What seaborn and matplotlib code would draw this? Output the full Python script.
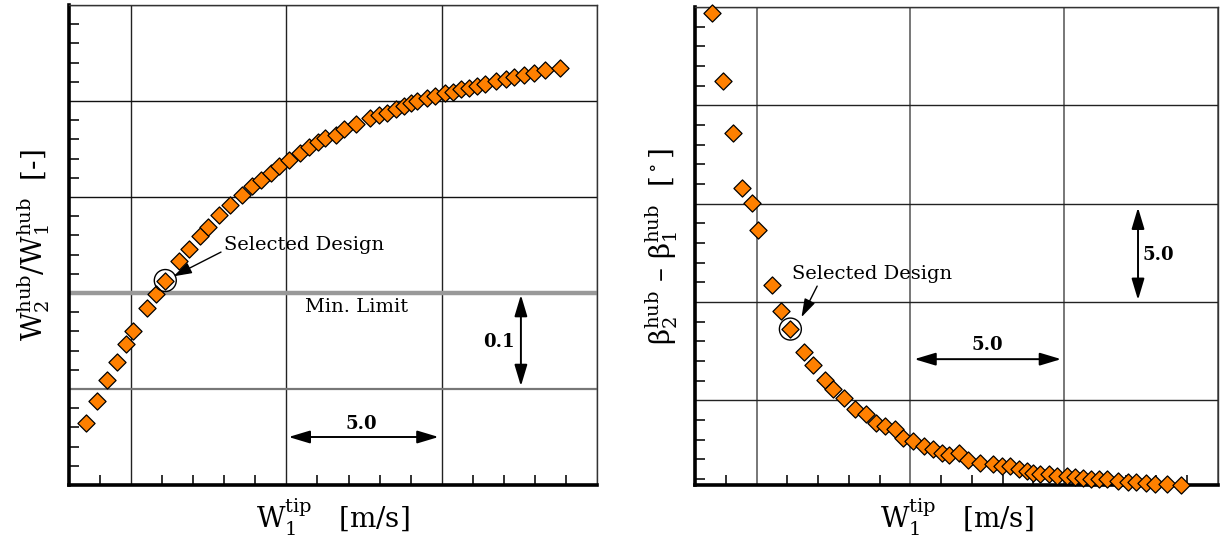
import numpy as np
import pandas as pd
import matplotlib
matplotlib.use("Agg")
import matplotlib.pyplot as plt
import seaborn as sns
from matplotlib.ticker import MultipleLocator, NullFormatter

# ---------------- data ----------------
w1_tip = [8.56, 8.91, 9.23, 9.53, 9.85, 10.06, 10.50, 10.81, 11.10, 11.55,
          11.85, 12.23, 12.47, 12.84, 13.19, 13.56, 13.89, 14.17, 14.51, 14.75,
          15.07, 15.43, 15.73, 16.02, 16.25, 16.59, 16.86, 17.25, 17.69, 17.97,
          18.25, 18.54, 18.79, 19.00, 19.21, 19.52, 19.78, 20.09, 20.36, 20.61,
          20.88, 21.13, 21.38, 21.76, 22.06, 22.33, 22.66, 22.96, 23.34, 23.80]

w_ratio = [0.565, 0.588, 0.609, 0.628, 0.647, 0.660, 0.684, 0.699, 0.713, 0.733,
           0.746, 0.759, 0.769, 0.781, 0.792, 0.802, 0.811, 0.818, 0.825, 0.832,
           0.839, 0.846, 0.852, 0.857, 0.861, 0.865, 0.871, 0.876, 0.882, 0.885,
           0.888, 0.892, 0.895, 0.898, 0.900, 0.903, 0.905, 0.908, 0.909, 0.912,
           0.914, 0.916, 0.918, 0.921, 0.923, 0.925, 0.927, 0.929, 0.932, 0.934]

beta_diff = [24.70, 21.26, 18.60, 15.80, 15.05, 13.64, 10.88, 9.54, 8.62, 7.43,
             6.77, 6.03, 5.57, 5.09, 4.57, 4.29, 3.82, 3.68, 3.56, 3.09,
             2.95, 2.67, 2.51, 2.32, 2.22, 2.32, 1.94, 1.82, 1.75, 1.66,
             1.64, 1.52, 1.40, 1.31, 1.26, 1.23, 1.17, 1.14, 1.12, 1.05,
             1.02, 0.98, 0.98, 0.88, 0.84, 0.83, 0.79, 0.76, 0.74, 0.69]

selected_idx = 8
min_limit = 0.7

df = pd.DataFrame({"w1_tip": w1_tip, "w_ratio": w_ratio, "beta_diff": beta_diff})

# ---------------- style ----------------
sns.set_theme(style="white")
plt.rcParams["font.family"] = ["DejaVu Serif", "DejaVu Sans"]
plt.rcParams["mathtext.fontset"] = "dejavuserif"
plt.rcParams["text.color"] = "black"
plt.rcParams["axes.labelcolor"] = "black"

W, H = 1221, 536
fig = plt.figure(figsize=(W / 100, H / 100), dpi=100)
ax1 = fig.add_axes([69 / W, 1 - 485 / H, (597 - 69) / W, (485 - 5) / H])
ax2 = fig.add_axes([695 / W, 1 - 485 / H, (1218 - 695) / W, (485 - 7) / H])

orange = "#FF8000"
mk_s = 76
circ_s = 250
dbl = dict(arrowstyle="<|-|>,head_width=0.3,head_length=1.0", color="black",
           lw=1.4, shrinkA=0, shrinkB=0, mutation_scale=13)


def style_axes(ax, xmaj, xmin, ymaj, ymin):
    ax.xaxis.set_major_locator(MultipleLocator(xmaj))
    ax.xaxis.set_minor_locator(MultipleLocator(xmin))
    ax.yaxis.set_major_locator(MultipleLocator(ymaj))
    ax.yaxis.set_minor_locator(MultipleLocator(ymin))
    ax.xaxis.set_major_formatter(NullFormatter())
    ax.yaxis.set_major_formatter(NullFormatter())
    ax.tick_params(which="major", length=0)
    ax.tick_params(which="minor", direction="in", length=7, width=1.3,
                   color="#222222", bottom=True, left=True, top=False, right=False)
    for side in ["left", "bottom"]:
        ax.spines[side].set_linewidth(2.6)
        ax.spines[side].set_color("black")
    for side in ["top", "right"]:
        ax.spines[side].set_linewidth(1.0)
        ax.spines[side].set_color("#333333")
    ax.set_axisbelow(True)


# ---------------- left panel ----------------
ax1.set_xlim(8, 25)
ax1.set_ylim(0.5, 1.0)
style_axes(ax1, 5, 1, 0.1, 0.02)
ax1.grid(True, which="major", axis="x", color="#222222", lw=1.0)
ax1.grid(True, which="major", axis="y", color="#111111", lw=1.0)
for gl, val in zip(ax1.get_ygridlines(), ax1.get_yticks()):
    if abs(val - 0.6) < 1e-6:
        gl.set_color("#777777")
        gl.set_linewidth(1.6)
ax1.axhline(min_limit, color="#999999", lw=3.2, zorder=1)

sns.scatterplot(data=df, x="w1_tip", y="w_ratio", ax=ax1, marker="D", s=mk_s,
                color=orange, edgecolor="black", linewidth=0.9, zorder=5,
                clip_on=False, legend=False)
ax1.scatter(df.w1_tip[selected_idx], df.w_ratio[selected_idx], s=circ_s,
            facecolors="none", edgecolors="black", linewidths=1.0, zorder=6)

ax1.annotate("Selected Design", xy=(11.28, 0.716), xytext=(13.0, 0.75),
             fontsize=14, va="center", ha="left",
             arrowprops=dict(arrowstyle="-|>,head_width=0.25,head_length=0.8",
                             color="black", lw=1.0, shrinkA=0, shrinkB=2,
                             relpos=(0.0, 0.2)))
ax1.text(15.6, 0.685, "Min. Limit", fontsize=14, va="center", ha="left")
ax1.annotate("", xy=(22.55, 0.698), xytext=(22.55, 0.603), arrowprops=dbl)
ax1.text(21.85, 0.649, "0.1", fontsize=13, fontweight="bold", ha="center", va="center")
ax1.annotate("", xy=(15.07, 0.55), xytext=(19.9, 0.55), arrowprops=dbl)
ax1.text(17.4, 0.564, "5.0", fontsize=13, fontweight="bold", ha="center", va="center")

ax1.set_xlabel(r"$\mathrm{W_1^{tip}}$   [m/s]", fontsize=20, labelpad=5)
ax1.set_ylabel(r"$\mathrm{W_2^{hub}/W_1^{hub}}$  [-]", fontsize=20, labelpad=9)

# ---------------- right panel ----------------
ax2.set_xlim(8, 25)
ax2.set_ylim(0.69, 25)
style_axes(ax2, 5, 1, 5, 1)
ax2.grid(True, which="major", axis="x", color="#777777", lw=1.4)
ax2.grid(True, which="major", axis="y", color="#222222", lw=1.0)

sns.scatterplot(data=df, x="w1_tip", y="beta_diff", ax=ax2, marker="D", s=mk_s,
                color=orange, edgecolor="black", linewidth=0.9, zorder=5,
                clip_on=False, legend=False)
ax2.scatter(df.w1_tip[selected_idx], df.beta_diff[selected_idx], s=circ_s,
            facecolors="none", edgecolors="black", linewidths=1.0, zorder=6)

ax2.annotate("Selected Design", xy=(11.42, 9.1), xytext=(11.14, 11.43),
             fontsize=14, va="center", ha="left",
             arrowprops=dict(arrowstyle="-|>,head_width=0.25,head_length=0.8",
                             color="black", lw=1.0, shrinkA=0, shrinkB=2,
                             relpos=(0.17, 0.0)))
ax2.annotate("", xy=(22.4, 14.8), xytext=(22.4, 10.1), arrowprops=dbl)
ax2.text(23.05, 12.4, "5.0", fontsize=13, fontweight="bold", ha="center", va="center")
ax2.annotate("", xy=(15.13, 7.09), xytext=(19.9, 7.09), arrowprops=dbl)
ax2.text(17.5, 7.8, "5.0", fontsize=13, fontweight="bold", ha="center", va="center")

ax2.set_xlabel(r"$\mathrm{W_1^{tip}}$   [m/s]", fontsize=20, labelpad=5)
ax2.set_ylabel(r"$\mathrm{β_2^{hub}}$ – $\mathrm{β_1^{hub}}$  [$^\circ$]",
               fontsize=20, labelpad=7)

fig.savefig("out.png", dpi=100)
